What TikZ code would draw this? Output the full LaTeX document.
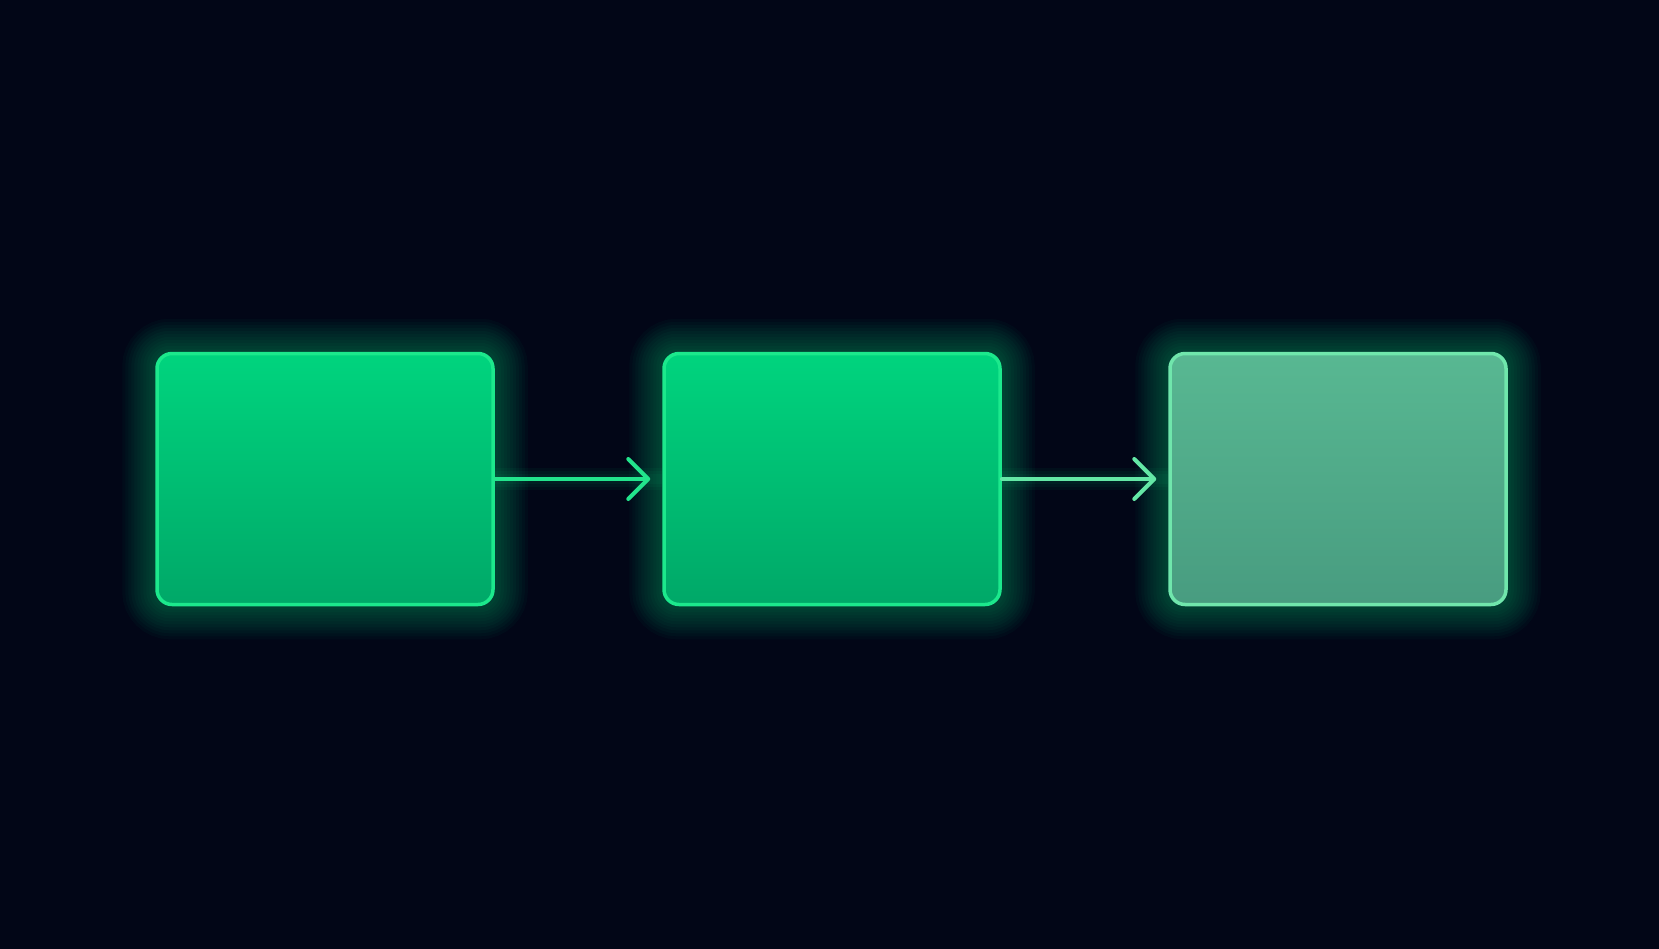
\documentclass[tikz,border=0pt]{standalone}
\usetikzlibrary{arrows.meta,backgrounds}
\definecolor{bg}{RGB}{2,6,23}
\definecolor{gtop}{RGB}{0,212,126}
\definecolor{gbot}{RGB}{0,168,104}
\definecolor{gedge}{RGB}{28,232,140}
\definecolor{mtop}{RGB}{88,184,146}
\definecolor{mbot}{RGB}{72,156,128}
\definecolor{medge}{RGB}{112,230,172}
\definecolor{glowc}{RGB}{0,200,120}
\definecolor{arrA}{RGB}{34,228,140}
\definecolor{arrB}{RGB}{100,232,166}
\tikzset{
  card/.style={rectangle, rounded corners=15pt, minimum width=336pt, minimum height=251pt, line width=3.5pt, draw},
  brightcard/.style={card, draw=gedge, top color=gtop, bottom color=gbot},
  mutedcard/.style={card, draw=medge, top color=mtop, bottom color=mbot},
  flow/.style={line width=3.5pt, line cap=round, shorten >=12pt,
    -{Straight Barb[length=20pt,width=40pt,line width=4pt,round]}},
}
\newcommand{\glowbox}[1]{%
  \foreach \w in {66,60,...,6}{%
    \draw[glowc, line width=\w pt, opacity=0.035, rounded corners=15pt]
      (#1.north west) rectangle (#1.south east);}}
\begin{document}
\begin{tikzpicture}[x=1pt,y=-1pt]
  \useasboundingbox (0,0) rectangle (1659,948);
  \node[brightcard] (a) at (325,479) {};
  \node[brightcard] (b) at (832,479) {};
  \node[mutedcard]  (c) at (1338,479) {};
  \begin{pgfonlayer}{background}
    \fill[bg] (-6,-6) rectangle (1665,954);
    \glowbox{a}\glowbox{b}\glowbox{c}
    \foreach \w in {22,16,10}{%
      \draw[glowc, line width=\w pt, opacity=0.05] (a.east) -- (b.west);
      \draw[glowc, line width=\w pt, opacity=0.05] (b.east) -- (c.west);}
  \end{pgfonlayer}
  \draw[flow, arrA] (a.east) -- (b.west);
  \draw[flow, arrB] (b.east) -- (c.west);
\end{tikzpicture}
\end{document}
